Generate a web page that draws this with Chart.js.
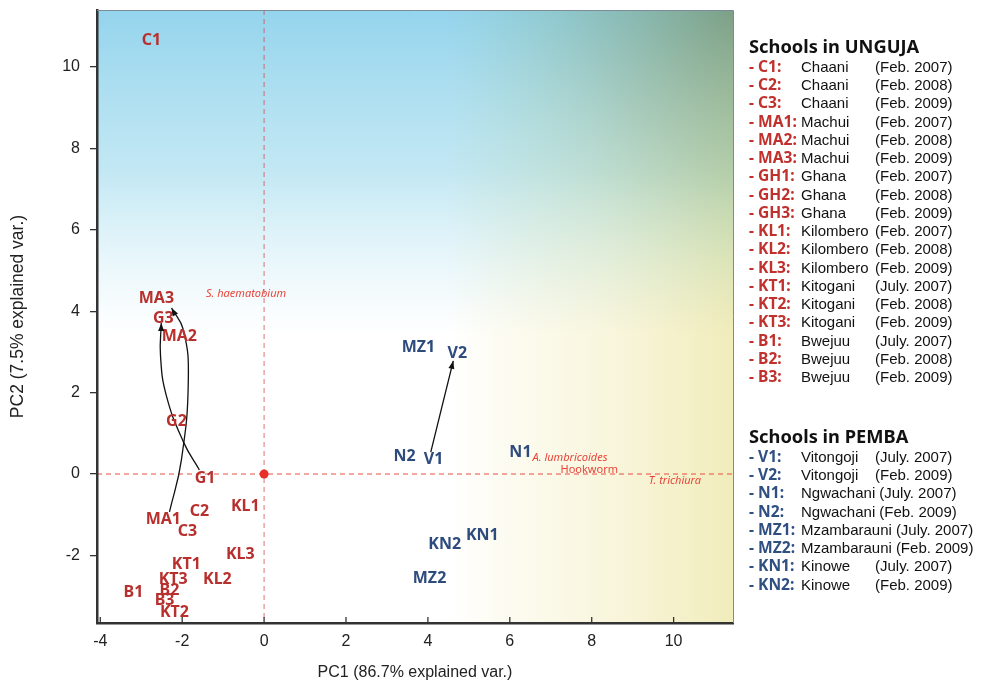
<!DOCTYPE html>
<html>
<head>
<meta charset="utf-8">
<script src="https://cdn.jsdelivr.net/npm/chart.js@4.4.1/dist/chart.umd.min.js"></script>
<style>
  html, body { margin: 0; padding: 0; background: #ffffff; }
  #wrap { position: relative; width: 981px; height: 687px; overflow: hidden; }
  #c { position: absolute; left: 0; top: 0; }
  .lg { position: absolute; left: 749px; white-space: nowrap; }
  .lg .ttl { font-family: "Noto Sans", sans-serif; font-weight: 700; font-size: 18.3px; line-height: 22px; color: #111; }
  .lg .row { font-family: "Liberation Sans", Arial, sans-serif; font-size: 15px; line-height: 18.24px; height: 18.24px; color: #111; }
  .lg .code { display: inline-block; min-width: 52px; font-family: "Noto Sans", sans-serif; font-weight: 700; font-size: 15.6px; }
  .lg .nm { display: inline-block; min-width: 70px; margin-right: 4px; }
  .red .code { color: #c0302c; }
  .blue .code { color: #2f4f80; }
</style>
</head>
<body>
<div id="wrap">
  <canvas id="c" width="981" height="687"></canvas>
  <div class="lg red" id="lgU" style="top:35px;"></div>
  <div class="lg blue" id="lgP" style="top:425px;"></div>
</div>
<script>
// ---------------- data ----------------
const ungujaLabels = ['C1','MA3','G3','MA2','G2','G1','C2','MA1','C3','KL1','KL3','KT1','KT3','KL2','B1','B2','B3','KT2'];
const ungujaX = [-2.75,-2.63,-2.46,-2.07,-2.14,-1.44,-1.58,-2.46,-1.87,-0.46,-0.58,-1.90,-2.22,-1.14,-3.19,-2.31,-2.43,-2.19];
const ungujaY = [10.64,4.32,3.83,3.37,1.30,-0.10,-0.91,-1.11,-1.40,-0.79,-1.97,-2.21,-2.60,-2.60,-2.92,-2.85,-3.10,-3.39];

const pembaLabels = ['MZ1','V2','N2','V1','N1','KN1','KN2','MZ2'];
const pembaX = [3.77,4.72,3.43,4.14,6.26,5.33,4.41,4.04];
const pembaY = [3.12,2.97,0.42,0.37,0.52,-1.52,-1.74,-2.56];

const loadingNames = ['S. haematobium','A. lumbricoides','Hookworm','T. trichiura'];
const loadingX = [-0.44,7.47,7.94,10.03];
const loadingY = [4.42,0.39,0.10,-0.17];

const arrowMA_X = [-2.31,-2.02,-1.85,-1.97,-2.26];
const arrowMA_Y = [-0.93,0.34,2.31,3.54,4.08];
const arrowG_X = [-1.58,-1.97,-2.39,-2.53,-2.51];
const arrowG_Y = [0.10,0.79,1.94,2.92,3.71];
const arrowV_X = [4.07,4.62];
const arrowV_Y = [0.54,2.78];

const xTicks = [-4,-2,0,2,4,6,8,10];
const yTicks = [-2,0,2,4,6,8,10];

const legendUnguja = {
  codes: ['C1','C2','C3','MA1','MA2','MA3','GH1','GH2','GH3','KL1','KL2','KL3','KT1','KT2','KT3','B1','B2','B3'],
  names: ['Chaani','Chaani','Chaani','Machui','Machui','Machui','Ghana','Ghana','Ghana','Kilombero','Kilombero','Kilombero','Kitogani','Kitogani','Kitogani','Bwejuu','Bwejuu','Bwejuu'],
  dates: ['(Feb. 2007)','(Feb. 2008)','(Feb. 2009)','(Feb. 2007)','(Feb. 2008)','(Feb. 2009)','(Feb. 2007)','(Feb. 2008)','(Feb. 2009)','(Feb. 2007)','(Feb. 2008)','(Feb. 2009)','(July. 2007)','(Feb. 2008)','(Feb. 2009)','(July. 2007)','(Feb. 2008)','(Feb. 2009)']
};
const legendPemba = {
  codes: ['V1','V2','N1','N2','MZ1','MZ2','KN1','KN2'],
  names: ['Vitongoji','Vitongoji','Ngwachani','Ngwachani','Mzambarauni','Mzambarauni','Kinowe','Kinowe'],
  dates: ['(July. 2007)','(Feb. 2009)','(July. 2007)','(Feb. 2009)','(July. 2007)','(Feb. 2009)','(July. 2007)','(Feb. 2009)']
};

// ---------------- legend (HTML text) ----------------
function buildLegend(el, title, lg) {
  let h = '<div class="ttl">' + title + '</div>';
  for (let i = 0; i < lg.codes.length; i++) {
    h += '<div class="row"><span class="code">- ' + lg.codes[i] + ':</span><span class="nm">' + lg.names[i] + '</span><span class="dt">' + lg.dates[i] + '</span></div>';
  }
  el.innerHTML = h;
}
buildLegend(document.getElementById('lgU'), 'Schools in UNGUJA', legendUnguja);
buildLegend(document.getElementById('lgP'), 'Schools in PEMBA', legendPemba);

// ---------------- helpers ----------------
const zip = (xs, ys) => xs.map((x, i) => ({x: x, y: ys[i]}));
const RED = '#b8302e';
const BLUE = '#2d4b7d';
const LOADRED = '#e8453a';

const bgPlugin = {
  id: 'bg',
  beforeDraw(chart) {
    const {ctx, chartArea: a} = chart;
    const w = a.right - a.left, h = a.bottom - a.top;
    ctx.save();
    ctx.fillStyle = '#ffffff';
    ctx.fillRect(a.left, a.top, w, h);
    // blue from top
    let g = ctx.createLinearGradient(0, a.top, 0, a.top + h * 0.53);
    g.addColorStop(0, 'rgba(148,212,237,1)');
    g.addColorStop(0.5, 'rgba(175,224,240,0.75)');
    g.addColorStop(1, 'rgba(200,235,245,0)');
    ctx.fillStyle = g;
    ctx.fillRect(a.left, a.top, w, h);
    // yellow from right (multiply)
    ctx.globalCompositeOperation = 'multiply';
    g = ctx.createLinearGradient(a.left + w * 0.55, 0, a.right, 0);
    g.addColorStop(0, 'rgba(243,238,190,0)');
    g.addColorStop(0.5, 'rgba(245,240,200,0.55)');
    g.addColorStop(1, 'rgba(241,236,186,1)');
    ctx.fillStyle = g;
    ctx.fillRect(a.left, a.top, w, h);
    // darker green-grey at top right
    g = ctx.createRadialGradient(a.right, a.top, 0, a.right, a.top, 280);
    g.addColorStop(0, 'rgba(226,208,198,1)');
    g.addColorStop(0.5, 'rgba(240,230,224,0.6)');
    g.addColorStop(1, 'rgba(255,255,255,0)');
    ctx.fillStyle = g;
    ctx.fillRect(a.left, a.top, w, h);
    ctx.globalCompositeOperation = 'source-over';

    // dashed reference lines
    const xs = chart.scales.x, ys = chart.scales.y;
    const px0 = xs.getPixelForValue(0), py0 = ys.getPixelForValue(0);
    ctx.setLineDash([5, 4]);
    ctx.lineWidth = 1;
    ctx.strokeStyle = 'rgba(232,68,58,0.95)';
    ctx.beginPath();
    ctx.moveTo(a.left, py0); ctx.lineTo(a.right, py0);
    ctx.stroke();
    ctx.strokeStyle = 'rgba(210,80,85,0.8)';
    ctx.beginPath();
    ctx.moveTo(px0, a.top); ctx.lineTo(px0, a.bottom);
    ctx.stroke();
    ctx.setLineDash([]);
    ctx.restore();
  },
  afterDraw(chart) {
    const {ctx, chartArea: a} = chart;
    ctx.save();
    // thin top & right frame
    ctx.strokeStyle = '#7d8b96';
    ctx.lineWidth = 1;
    ctx.beginPath();
    ctx.moveTo(a.left, a.top + 0.5); ctx.lineTo(a.right + 0.5, a.top + 0.5); ctx.lineTo(a.right + 0.5, a.bottom);
    ctx.stroke();
    // inside x ticks
    const xs = chart.scales.x;
    ctx.strokeStyle = '#333';
    ctx.lineWidth = 1.3;
    xTicks.forEach(v => {
      const p = xs.getPixelForValue(v);
      ctx.beginPath();
      ctx.moveTo(p, a.bottom); ctx.lineTo(p, a.bottom - 6);
      ctx.stroke();
    });
    ctx.restore();
  }
};

const labelPlugin = {
  id: 'labels',
  afterDatasetsDraw(chart) {
    const {ctx} = chart;
    ctx.save();
    ctx.textAlign = 'center';
    ctx.textBaseline = 'middle';
    chart.data.datasets.forEach((ds, di) => {
      if (!ds.pointLabels) return;
      const meta = chart.getDatasetMeta(di);
      meta.data.forEach((el, i) => {
        const txt = ds.pointLabels[i];
        if (ds.kind === 'loading') {
          const upright = (txt === 'Hookworm');
          ctx.font = (upright ? '' : 'italic ') + '11px "Noto Sans", sans-serif';
          ctx.fillStyle = LOADRED;
        } else {
          ctx.font = 'bold 16px "Noto Sans", sans-serif';
          ctx.fillStyle = ds.labelColor;
        }
        ctx.fillText(txt, el.x, el.y);
      });
    });
    // arrowheads
    chart.data.datasets.forEach((ds, di) => {
      if (!ds.arrow) return;
      const meta = chart.getDatasetMeta(di);
      const pts = meta.data;
      const last = pts[pts.length - 1];
      let fx = last.cp1x, fy = last.cp1y;
      if (fx === undefined || (Math.abs(fx - last.x) < 0.5 && Math.abs(fy - last.y) < 0.5)) {
        fx = pts[pts.length - 2].x; fy = pts[pts.length - 2].y;
      }
      const ang = Math.atan2(last.y - fy, last.x - fx);
      const L = 8, W = 3;
      ctx.fillStyle = '#111';
      ctx.beginPath();
      ctx.moveTo(last.x, last.y);
      ctx.lineTo(last.x - L * Math.cos(ang) + W * Math.sin(ang), last.y - L * Math.sin(ang) - W * Math.cos(ang));
      ctx.lineTo(last.x - L * Math.cos(ang) - W * Math.sin(ang), last.y - L * Math.sin(ang) + W * Math.cos(ang));
      ctx.closePath();
      ctx.fill();
    });
    ctx.restore();
  }
};

const arrowDs = (xs, ys) => ({
  type: 'line', data: zip(xs, ys), arrow: true, showLine: true,
  borderColor: '#111', borderWidth: 1.3, pointRadius: 0, tension: 0.45, fill: false
});

new Chart(document.getElementById('c'), {
  type: 'scatter',
  data: {
    datasets: [
      arrowDs(arrowMA_X, arrowMA_Y),
      arrowDs(arrowG_X, arrowG_Y),
      arrowDs(arrowV_X, arrowV_Y),
      { data: zip(ungujaX, ungujaY), pointLabels: ungujaLabels, labelColor: RED, pointRadius: 0 },
      { data: zip(pembaX, pembaY), pointLabels: pembaLabels, labelColor: BLUE, pointRadius: 0 },
      { data: zip(loadingX, loadingY), pointLabels: loadingNames, kind: 'loading', pointRadius: 0 },
      { data: [{x: 0, y: 0}], pointRadius: 4.5, backgroundColor: '#e8302a', borderWidth: 0 }
    ]
  },
  options: {
    responsive: false,
    animation: false,
    events: [],
    layout: { padding: { left: 0, top: 10, right: 248, bottom: 0 } },
    plugins: { legend: { display: false }, tooltip: { enabled: false } },
    scales: {
      x: {
        type: 'linear', min: -4.08, max: 11.45,
        afterBuildTicks: s => { s.ticks = xTicks.map(v => ({value: v})); },
        afterFit: s => { s.height = 64; s.paddingLeft = 0; s.paddingRight = 0; },
        grid: { display: false },
        border: { display: true, color: '#333', width: 2.5 },
        ticks: { padding: 1, color: '#222', font: { family: '"Liberation Sans", Arial, sans-serif', size: 16 } },
        title: { display: true, text: 'PC1 (86.7% explained var.)', color: '#222', padding: { top: 0, bottom: 5 },
                 font: { family: '"Liberation Sans", Arial, sans-serif', size: 16 } }
      },
      y: {
        type: 'linear', min: -3.66, max: 11.4,
        afterBuildTicks: s => { s.ticks = yTicks.map(v => ({value: v})); },
        afterFit: s => { s.width = 97; s.paddingTop = 0; s.paddingBottom = 0; },
        grid: { display: true, drawOnChartArea: false, drawTicks: true, tickLength: 7, color: '#333', lineWidth: 1.3 },
        border: { display: true, color: '#333', width: 2.5 },
        ticks: { padding: 10, color: '#222', font: { family: '"Liberation Sans", Arial, sans-serif', size: 16 } },
        title: { display: true, text: 'PC2 (7.5% explained var.)', color: '#222', padding: { top: 8, bottom: 0 },
                 font: { family: '"Liberation Sans", Arial, sans-serif', size: 17.5 } }
      }
    }
  },
  plugins: [bgPlugin, labelPlugin]
});
</script>
</body>
</html>
